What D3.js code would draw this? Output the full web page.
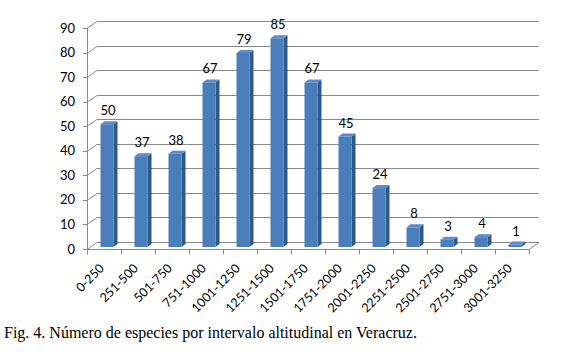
<!DOCTYPE html>
<html lang="es">
<head>
  <meta charset="UTF-8" />
  <title>Número de especies por intervalo altitudinal</title>
  <script src="https://cdn.jsdelivr.net/npm/d3@7/dist/d3.min.js"></script>
  <style>
    html, body { margin: 0; padding: 0; background: #fff; }
    svg { display: block; }
    .tick-label { font-family: Lato, "Open Sans", sans-serif; font-size: 13px; fill: #000; }
    .caption { font-family: "Liberation Serif", "Times New Roman", serif; font-size: 16px; fill: #000; }
  </style>
</head>
<body>
  <div id="chart"></div>
  <script>
    // datos
    const categories = ["0-250", "251-500", "501-750", "751-1000", "1001-1250", "1251-1500",
      "1501-1750", "1751-2000", "2001-2250", "2251-2500", "2501-2750", "2751-3000", "3001-3250"];
    const values = [50, 37, 38, 67, 79, 85, 67, 45, 24, 8, 3, 4, 1];
    const yTicks = [0, 10, 20, 30, 40, 50, 60, 70, 80, 90];
    const caption = "Fig. 4. Número de especies por intervalo altitudinal en Veracruz.";

    const width = 570, height = 357;
    const depth = { dx: 10, dy: -7 };      // profundidad del "3D"
    const barOff = { dx: 3, dy: -2 };      // barra colocada dentro del piso
    const barDepth = { dx: 4, dy: -3 };
    const barW = 13;

    const svg = d3.select("#chart").append("svg")
      .attr("width", width).attr("height", height);

    const x = d3.scaleBand().domain(categories).range([87, 529]);
    const y = d3.scaleLinear().domain([0, 90]).range([249, 28]);

    const gridColor = "#8a8a8a";
    const grid = svg.append("g").attr("stroke", gridColor).attr("fill", "none").attr("stroke-width", 1);

    // lineas de cuadricula (pared izquierda + pared del fondo)
    yTicks.forEach(t => {
      const yy = Math.round(y(t)) + 0.5;
      grid.append("path")
        .attr("d", `M${x.range()[0]},${yy} L${x.range()[0] + depth.dx},${yy + depth.dy} L${x.range()[1] + depth.dx},${yy + depth.dy}`);
    });
    // piso
    const y0 = Math.round(y(0)) + 0.5;
    grid.append("path")
      .attr("d", `M${x.range()[1]},${y0} L${x.range()[1] + depth.dx},${y0 + depth.dy}`);
    // ejes
    grid.append("line")
      .attr("x1", x.range()[0] + 0.5).attr("x2", x.range()[0] + 0.5)
      .attr("y1", y0).attr("y2", Math.round(y(90)));
    grid.append("line")
      .attr("x1", x.range()[0]).attr("x2", x.range()[1])
      .attr("y1", y0).attr("y2", y0);

    // marcas del eje y
    yTicks.forEach(t => {
      const yy = Math.round(y(t)) + 0.5;
      grid.append("line").attr("x1", x.range()[0] - 4).attr("x2", x.range()[0]).attr("y1", yy).attr("y2", yy);
      svg.append("text").attr("class", "tick-label")
        .attr("x", 75).attr("y", y(t)).attr("dy", "0.35em")
        .attr("text-anchor", "end").text(t);
    });

    // marcas del eje x
    categories.concat([null]).forEach((c, i) => {
      const xx = Math.round(x.range()[0] + i * x.bandwidth()) + 0.5;
      grid.append("line").attr("x1", xx).attr("x2", xx).attr("y1", y0).attr("y2", y0 + 5);
    });

    // barras
    const bars = svg.append("g");
    categories.forEach((c, i) => {
      const v = values[i];
      const cx = x(c) + x.bandwidth() / 2;
      const left = cx - barW / 2 + barOff.dx;
      const right = left + barW;
      const bottom = y(0) + barOff.dy;
      const top = y(v) + barOff.dy;
      const g = bars.append("g");
      // lado
      g.append("polygon")
        .attr("points", [[right, bottom], [right + barDepth.dx, bottom + barDepth.dy],
          [right + barDepth.dx, top + barDepth.dy], [right, top]].map(p => p.join(",")).join(" "))
        .attr("fill", "#2f5987");
      // tapa
      g.append("polygon")
        .attr("points", [[left, top], [left + barDepth.dx, top + barDepth.dy],
          [right + barDepth.dx, top + barDepth.dy], [right, top]].map(p => p.join(",")).join(" "))
        .attr("fill", "#5b8bc9");
      // frente
      g.append("rect")
        .attr("x", left).attr("y", top)
        .attr("width", barW).attr("height", Math.max(0, bottom - top))
        .attr("fill", "#4a7ebb");
      // valor
      svg.append("text").attr("class", "tick-label")
        .attr("x", left + barW / 2 + 1).attr("y", top - 9)
        .attr("text-anchor", "middle").text(v);
    });

    // etiquetas del eje x (giradas)
    categories.forEach(c => {
      const px = x(c) + x.bandwidth() / 2 + 1;
      const py = 269;
      svg.append("text").attr("class", "tick-label")
        .style("font-size", "12.5px")
        .attr("transform", `translate(${px},${py}) rotate(-45)`)
        .attr("text-anchor", "end").text(c);
    });

    svg.append("text").attr("class", "caption")
      .attr("x", 4).attr("y", 338).text(caption);
  </script>
</body>
</html>
